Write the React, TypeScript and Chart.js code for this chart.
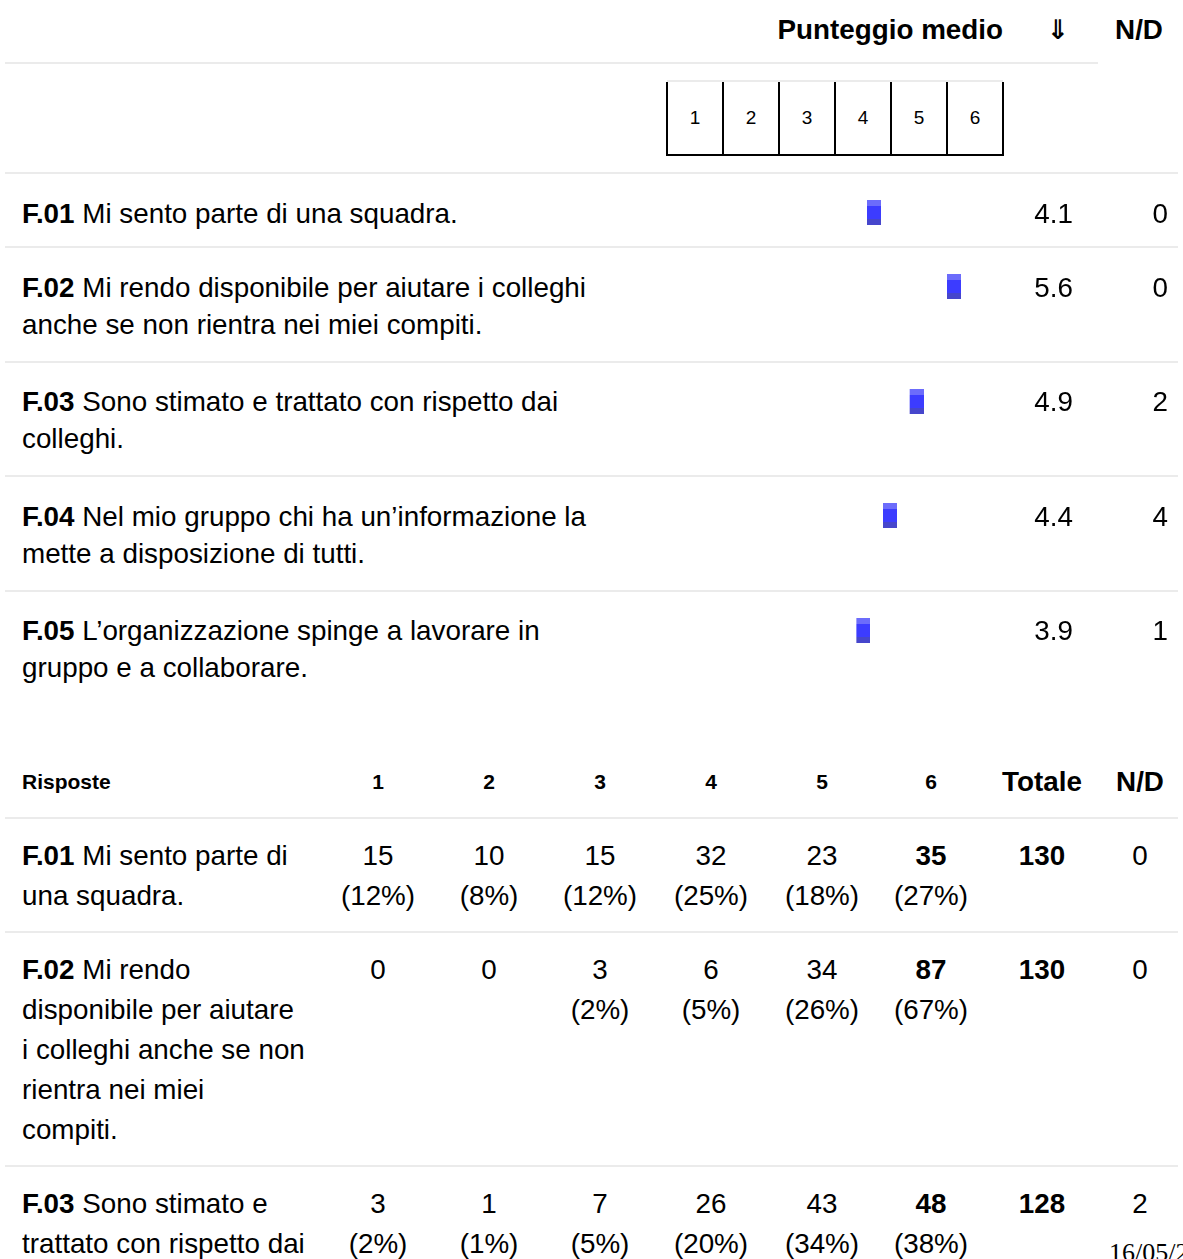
import React, { useEffect, useRef } from "react";
import { Chart, registerables } from "chart.js";

Chart.register(...registerables);

// ---------- data ----------
const questionCodes = ["F.01", "F.02", "F.03", "F.04", "F.05"];
const upperTextLines: string[][] = [
  ["Mi sento parte di una squadra."],
  ["Mi rendo disponibile per aiutare i colleghi", "anche se non rientra nei miei compiti."],
  ["Sono stimato e trattato con rispetto dai", "colleghi."],
  ["Nel mio gruppo chi ha un’informazione la", "mette a disposizione di tutti."],
  ["L’organizzazione spinge a lavorare in", "gruppo e a collaborare."],
];
const meanScores = [4.1, 5.6, 4.9, 4.4, 3.9];
const upperNotAvailable = [0, 0, 2, 4, 1];
const scaleLabels = ["1", "2", "3", "4", "5", "6"];

const lowerTextLines: string[][] = [
  ["Mi sento parte di", "una squadra."],
  ["Mi rendo", "disponibile per aiutare", "i colleghi anche se non", "rientra nei miei", "compiti."],
  ["Sono stimato e", "trattato con rispetto dai", "colleghi."],
];
const countsF01 = [15, 10, 15, 32, 23, 35];
const countsF02 = [0, 0, 3, 6, 34, 87];
const countsF03 = [3, 1, 7, 26, 43, 48];
const percentF01 = [12, 8, 12, 25, 18, 27];
const percentF02 = [0, 0, 2, 5, 26, 67];
const percentF03 = [2, 1, 5, 20, 34, 38];
const responseCounts = [countsF01, countsF02, countsF03];
const responsePercents = [percentF01, percentF02, percentF03];
const responseTotals = [130, 130, 128];
const lowerNotAvailable = [0, 0, 2];
const footerText = "16/05/20";

// ---------- style ----------
const SANS = '"Liberation Sans", Arial, Helvetica, sans-serif';
const FS = 27.8;
const LINE_COLOR = "#ebebeb";
const TEXT = "#000";

let markerImg: HTMLCanvasElement | null = null;
function getMarker(): HTMLCanvasElement {
  if (markerImg) return markerImg;
  const c = document.createElement("canvas");
  c.width = 28;
  c.height = 25;
  const ctx = c.getContext("2d")!;
  ctx.fillStyle = "#6c6cfb";
  ctx.fillRect(14, 0, 14, 6);
  ctx.fillStyle = "#3c3cff";
  ctx.fillRect(14, 6, 14, 13);
  ctx.fillStyle = "#4646cc";
  ctx.fillRect(14, 19, 14, 6);
  markerImg = c;
  return c;
}

function MarkerChart({ code, value, left, top }: { code: string; value: number; left: number; top: number }) {
  const ref = useRef<HTMLCanvasElement>(null);
  useEffect(() => {
    const canvas = ref.current!;
    const chart = new Chart(canvas, {
      type: "scatter",
      data: {
        datasets: [
          {
            data: [{ x: value, y: code as any }],
            pointStyle: getMarker() as any,
            pointRadius: 7,
            pointHoverRadius: 7,
          },
        ],
      },
      options: {
        animation: false,
        responsive: false,
        devicePixelRatio: 1,
        events: [],
        layout: { padding: 0 },
        plugins: { legend: { display: false }, tooltip: { enabled: false } },
        scales: {
          x: { type: "linear", min: 0.5, max: 6.5, display: false },
          y: { type: "category", labels: [code], offset: true, display: false },
        },
      },
    });
    return () => chart.destroy();
  }, [code, value]);
  return (
    <canvas
      ref={ref}
      width={336}
      height={25}
      style={{ position: "absolute", left, top, width: 336, height: 25 }}
    />
  );
}

function HLine({ top, left = 5, width = 1173 }: { top: number; left?: number; width?: number }) {
  return <div style={{ position: "absolute", left, top, width, height: 2, background: LINE_COLOR }} />;
}

function Txt({
  x,
  cy,
  lh,
  children,
  align = "left",
  w = 0,
  bold = false,
  size = FS,
  family = SANS,
}: any) {
  let left = x;
  if (align === "center") left = x - w / 2;
  if (align === "right") left = x - w;
  return (
    <div
      style={{
        position: "absolute",
        left,
        top: cy - lh / 2,
        width: w || undefined,
        lineHeight: `${lh}px`,
        fontSize: size,
        fontFamily: family,
        fontWeight: bold ? 700 : 400,
        textAlign: align,
        whiteSpace: "nowrap",
        color: TEXT,
      }}
    >
      {children}
    </div>
  );
}

export default function App() {
  const boxLeft = 667;
  const boxW = 56;
  const upperTops: number[] = [];
  let t = 173;
  upperTextLines.forEach((lines) => {
    upperTops.push(t);
    t += lines.length === 1 ? 74 : 114.5;
  });

  const lowerTops: number[] = [];
  let lt = 818;
  lowerTextLines.forEach((lines) => {
    lowerTops.push(lt);
    lt += 34 + 40 * lines.length;
  });
  const colCenters = [378, 489, 600, 711, 822, 931];

  return (
    <div
      style={{
        position: "absolute",
        left: 0,
        top: 0,
        width: 1183,
        height: 1259,
        overflow: "hidden",
        background: "#fff",
        fontFamily: SANS,
        color: TEXT,
      }}
    >
      {/* header */}
      <Txt x={1003} cy={30} lh={34} w={320} align="right" bold>
        Punteggio medio
      </Txt>
      <Txt x={1058} cy={30} lh={34} w={40} align="center" size={27} bold family='"DejaVu Sans", sans-serif'>
        ⇓
      </Txt>
      <Txt x={1139} cy={30} lh={34} w={80} align="center" bold>
        N/D
      </Txt>
      <HLine top={62} width={1093} />

      {/* scale boxes */}
      <div style={{ position: "absolute", left: boxLeft, top: 80, width: boxW * 6, height: 2, background: LINE_COLOR }} />
      {scaleLabels.map((_, i) => (
        <div
          key={"v" + i}
          style={{ position: "absolute", left: boxLeft + boxW * i - 1, top: 82, width: 2, height: 74, background: "#000" }}
        />
      ))}
      <div style={{ position: "absolute", left: boxLeft + boxW * 6 - 1, top: 82, width: 2, height: 74, background: "#000" }} />
      <div style={{ position: "absolute", left: boxLeft - 1, top: 154, width: boxW * 6 + 2, height: 2, background: "#000" }} />
      {scaleLabels.map((lab, i) => (
        <Txt key={"s" + i} x={boxLeft + boxW * i + boxW / 2} cy={118} lh={24} w={boxW} align="center" size={19}>
          {lab}
        </Txt>
      ))}

      {/* upper rows */}
      {questionCodes.map((code, i) => {
        const top = upperTops[i];
        const lines = upperTextLines[i];
        return (
          <React.Fragment key={"u" + code}>
            <HLine top={top - 1} />
            {lines.map((ln, j) => (
              <Txt key={j} x={22} cy={top + 40 + 37 * j} lh={37}>
                {j === 0 ? (
                  <>
                    <b>{code}</b> {ln}
                  </>
                ) : (
                  ln
                )}
              </Txt>
            ))}
            <MarkerChart code={code} value={meanScores[i]} left={boxLeft} top={top + 27} />
            <Txt x={1073} cy={top + 40} lh={37} w={80} align="right">
              {meanScores[i].toFixed(1)}
            </Txt>
            <Txt x={1168} cy={top + 40} lh={37} w={60} align="right">
              {upperNotAvailable[i]}
            </Txt>
          </React.Fragment>
        );
      })}

      {/* lower header */}
      <Txt x={22} cy={782} lh={26} size={21} bold>
        Risposte
      </Txt>
      {scaleLabels.map((lab, i) => (
        <Txt key={"h" + i} x={colCenters[i]} cy={782} lh={26} w={60} align="center" size={21} bold>
          {lab}
        </Txt>
      ))}
      <Txt x={1042} cy={782} lh={34} w={110} align="center" bold>
        Totale
      </Txt>
      <Txt x={1140} cy={782} lh={34} w={80} align="center" bold>
        N/D
      </Txt>

      {/* lower rows */}
      {lowerTextLines.map((lines, i) => {
        const top = lowerTops[i];
        const counts = responseCounts[i];
        const maxC = Math.max(...counts);
        return (
          <React.Fragment key={"l" + i}>
            <HLine top={top - 1} />
            {lines.map((ln, j) => (
              <Txt key={j} x={22} cy={top + 38 + 40 * j} lh={40}>
                {j === 0 ? (
                  <>
                    <b>{questionCodes[i]}</b> {ln}
                  </>
                ) : (
                  ln
                )}
              </Txt>
            ))}
            {counts.map((c, k) => (
              <React.Fragment key={"c" + k}>
                <Txt x={colCenters[k]} cy={top + 38} lh={40} w={110} align="center" bold={c === maxC}>
                  {c}
                </Txt>
                {c > 0 && (
                  <Txt x={colCenters[k]} cy={top + 78} lh={40} w={110} align="center">
                    ({responsePercents[i][k]}%)
                  </Txt>
                )}
              </React.Fragment>
            ))}
            <Txt x={1042} cy={top + 38} lh={40} w={110} align="center" bold>
              {responseTotals[i]}
            </Txt>
            <Txt x={1140} cy={top + 38} lh={40} w={80} align="center">
              {lowerNotAvailable[i]}
            </Txt>
          </React.Fragment>
        );
      })}

      {/* footer date (cropped at the page edge, as in the reference) */}
      <div
        style={{
          position: "absolute",
          left: 1109,
          top: 1238,
          lineHeight: "30px",
          fontSize: 26,
          fontFamily: '"Liberation Serif", "Times New Roman", serif',
          whiteSpace: "nowrap",
          color: TEXT,
        }}
      >
        {footerText}
      </div>
    </div>
  );
}
